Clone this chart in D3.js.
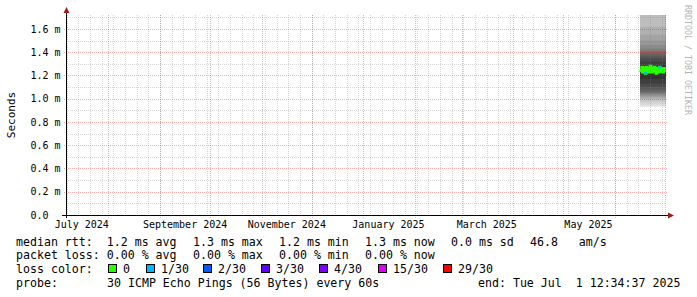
<!DOCTYPE html>
<html>
<head>
<meta charset="utf-8">
<script src="https://cdn.jsdelivr.net/npm/d3@7/dist/d3.min.js"></script>
<style>
  html, body { margin: 0; padding: 0; background: #fff; }
  svg { display: block; font-family: "DejaVu Sans Mono", monospace; }
</style>
</head>
<body>
<svg id="chart" width="697" height="297"></svg>
<script>
// --- data -----------------------------------------------------------------
// graph window: last 360 days up to the "end" stamp
const graphEnd = new Date(Date.UTC(2025, 6, 1, 12, 34, 37));
const graphStart = new Date(graphEnd.getTime() - 360 * 864e5);
const dataStart = new Date(Date.UTC(2025, 5, 16, 0, 0, 0)); // first 12h row with data

const yMaxMs = 1.72;
const yTickValues = [0, 0.2, 0.4, 0.6, 0.8, 1.0, 1.2, 1.4, 1.6];
const yMinorValues = [0.1, 0.3, 0.5, 0.7, 0.9, 1.1, 1.3, 1.5, 1.7];

// median rtt per 12h row (ms)
const medianRtt = [1.25, 1.24, 1.27, 1.23, 1.26, 1.25, 1.22, 1.27, 1.24, 1.26, 1.23, 1.25,
                   1.28, 1.24, 1.23, 1.26, 1.25, 1.27, 1.24, 1.22, 1.26, 1.25, 1.23, 1.27,
                   1.24, 1.26, 1.25, 1.23, 1.26, 1.24, 1.25, 1.26];
// lost pings (of 30) per row
const lossCount = [0, 0, 0, 0, 0, 0, 1, 0, 0, 0, 0, 0, 0, 0, 0, 0,
                   0, 0, 0, 0, 0, 0, 0, 1, 0, 0, 0, 0, 0, 0, 0, 0];
// sorted ping ranks: cp1..cp15 (low side) and cp30..cp16 (high side), ms
const pingLow  = [0.93, 0.95, 0.97, 0.99, 1.00, 1.01, 1.02, 1.03, 1.04, 1.05, 1.06, 1.08, 1.10, 1.13, 1.17];
const pingHigh = [2.80, 2.30, 1.90, 1.72, 1.62, 1.55, 1.50, 1.46, 1.43, 1.41, 1.39, 1.37, 1.35, 1.32, 1.29];

const lossLabels = ['0', '1/30', '2/30', '3/30', '4/30', '15/30', '29/30'];
const lossLevels = [0, 1, 2, 3, 4, 15, 29];
const lossColors = ['#26ff00', '#00b8ff', '#0059ff', '#5e00ff', '#7e00ff', '#dd00ff', '#ff0000'];

const rttStats  = ['median rtt:  1.2 ms avg', '1.3 ms max', '1.2 ms min', '1.3 ms now', '0.0 ms sd', '46.8   am/s'];
const lossStats = ['packet loss: 0.00 % avg', '0.00 % max', '0.00 % min', '0.00 % now'];
const probeText = '30 ICMP Echo Pings (56 Bytes) every 60s';
const endText = 'end: Tue Jul  1 12:34:37 2025';

// --- layout ---------------------------------------------------------------
const X0 = 66, X1 = 666, YTOP = 15, YBOT = 215;
const svg = d3.select('#chart');

const x = d3.scaleUtc().domain([graphStart, graphEnd]).range([X0, X1]);
const y = d3.scaleLinear().domain([0, yMaxMs]).range([YBOT, YTOP]);

svg.append('defs').append('clipPath').attr('id', 'plot')
  .append('rect').attr('x', X0).attr('y', YTOP).attr('width', X1 - X0).attr('height', YBOT - YTOP);

// rows: time of each 12h step
const rows = medianRtt.map((v, i) => ({
  t: d3.utcHour.offset(dataStart, i * 12),
  median: v,
  loss: lossCount[i],
}));
// trailing point so the last step reaches the graph end
const rowsExt = rows.concat([{ ...rows[rows.length - 1], t: graphEnd }]);

const plot = svg.append('g').attr('clip-path', 'url(#plot)');

// smoke: band i spans cp(i) .. cp(31-i), darker towards the middle
const half = pingLow.length;
pingLow.forEach((lo, i) => {
  const g = Math.floor(190 / half * (half - (i + 1))) + 50;
  const area = d3.area()
    .curve(d3.curveStepAfter)
    .x(d => x(d.t))
    .y0(() => y(lo))
    .y1(() => y(pingHigh[i]));
  plot.append('path')
    .attr('d', area(rowsExt))
    .attr('fill', d3.rgb(g, g, g));
});

// median line, coloured by loss
const medLine = d3.line().curve(d3.curveStepAfter).x(d => x(d.t)).y(d => y(d.median));
plot.append('path')
  .attr('d', medLine(rowsExt))
  .attr('fill', 'none')
  .attr('stroke', lossColors[0])
  .attr('stroke-width', 3);
rows.forEach((r, i) => {
  if (!r.loss) return;
  const k = lossLevels.findIndex((l, j) => r.loss >= l && (j === lossLevels.length - 1 || r.loss < lossLevels[j + 1]));
  plot.append('path')
    .attr('d', d3.line().x(d => x(d.t)).y(d => y(d.median))([r, { ...r, t: rowsExt[i + 1].t }]))
    .attr('fill', 'none')
    .attr('stroke', lossColors[k])
    .attr('stroke-linecap', 'square')
    .attr('stroke-width', 2);
});

// --- grid (drawn over the graph, like rrdtool) -----------------------------
const minorCol = 'rgba(128,128,128,0.32)';
const majorCol = 'rgba(255,0,0,0.32)';
const grid = svg.append('g').attr('stroke-dasharray', '1,1').attr('shape-rendering', 'crispEdges');

const weeks = d3.utcSunday.range(graphStart, graphEnd);
const months = d3.utcMonth.range(graphStart, graphEnd);
grid.selectAll('line.wk').data(weeks).join('line')
  .attr('x1', d => Math.round(x(d)) + 0.5).attr('x2', d => Math.round(x(d)) + 0.5)
  .attr('y1', YTOP).attr('y2', YBOT)
  .attr('stroke', minorCol);
grid.selectAll('line.hmin').data(yMinorValues).join('line')
  .attr('x1', X0).attr('x2', X1)
  .attr('y1', d => Math.round(y(d)) + 0.5).attr('y2', d => Math.round(y(d)) + 0.5)
  .attr('stroke', minorCol);
grid.selectAll('line.mo').data(months).join('line')
  .attr('x1', d => Math.round(x(d)) + 0.5).attr('x2', d => Math.round(x(d)) + 0.5)
  .attr('y1', YTOP).attr('y2', YBOT + 3)
  .attr('stroke', majorCol);
grid.selectAll('line.hmaj').data(yTickValues.slice(1)).join('line')
  .attr('x1', X0 - 2).attr('x2', X1 + 2)
  .attr('y1', d => Math.round(y(d)) + 0.5).attr('y2', d => Math.round(y(d)) + 0.5)
  .attr('stroke', majorCol);

// --- axes -----------------------------------------------------------------
const axes = svg.append('g').attr('shape-rendering', 'crispEdges');
axes.append('line').attr('x1', X0 - 4).attr('x2', X1 + 3).attr('y1', YBOT + 0.5).attr('y2', YBOT + 0.5)
  .attr('stroke', '#000');
axes.append('line').attr('x1', X0 + 0.5).attr('x2', X0 + 0.5).attr('y1', YBOT + 3).attr('y2', YTOP - 4)
  .attr('stroke', '#000');
const arrowCol = '#a11b1b';
svg.append('path').attr('d', `M${X0 - 2.5},${YTOP - 2} L${X0 + 3.5},${YTOP - 2} L${X0 + 0.5},${YTOP - 8} Z`)
  .attr('fill', arrowCol);
svg.append('path').attr('d', `M${X1 + 2},${YBOT - 2.5} L${X1 + 2},${YBOT + 3.5} L${X1 + 8},${YBOT + 0.5} Z`)
  .attr('fill', arrowCol);

// y tick labels
svg.append('g').selectAll('text').data(yTickValues).join('text')
  .attr('x', 30.5)
  .attr('y', d => y(d) + 3.6)
  .attr('font-size', 10)
  .attr('fill', '#000')
  .text(d => d === 0 ? '0.0' : d3.format('.1f')(d) + ' m');

// x month labels, every second month, centred half a month in
const labelMonths = d3.utcMonth.every(2).range(d3.utcMonth.floor(graphStart), graphEnd)
  .filter(d => x(d3.utcDay.offset(d, 15)) < X1);
svg.append('g').selectAll('text').data(labelMonths).join('text')
  .attr('x', d => x(d3.utcDay.offset(d, 15)))
  .attr('y', 228)
  .attr('text-anchor', 'middle')
  .attr('font-size', 10)
  .attr('fill', '#000')
  .text(d3.utcFormat('%B %Y'));

// axis title
svg.append('text')
  .attr('transform', `translate(14.5,${(YTOP + YBOT) / 2}) rotate(-90)`)
  .attr('text-anchor', 'middle')
  .attr('font-size', 11)
  .attr('fill', '#000')
  .text('Seconds');

// watermark
svg.append('text')
  .attr('transform', 'translate(684.5,5) rotate(90)')
  .attr('font-size', 8.3)
  .attr('fill', '#b4b4b4')
  .text('RRDTOOL / TOBI OETIKER');

// --- legend ---------------------------------------------------------------
const legend = svg.append('g').attr('font-size', 11.6).attr('fill', '#000');
const rowY = [245.5, 259, 273, 286.5];
const keepSpaces = s => s.replace(/ /g, '\u00a0');
const put = (tx, ty, s) => legend.append('text').attr('x', tx).attr('y', ty).text(keepSpaces(s));

[16, 193, 279, 365, 451, 530].forEach((px, i) => put(px, rowY[0], rttStats[i]));
[16, 193, 279, 365].forEach((px, i) => put(px, rowY[1], lossStats[i]));

put(16, rowY[2], 'loss color:');
const boxX = [108, 146, 203, 261, 319, 378, 443];
boxX.forEach((bx, i) => {
  legend.append('rect')
    .attr('x', bx + 0.5).attr('y', 264.5).attr('width', 8).attr('height', 8)
    .attr('fill', lossColors[i]).attr('stroke', '#000').attr('shape-rendering', 'crispEdges');
  put(bx + 15, rowY[2], lossLabels[i]);
});

put(16, rowY[3], 'probe:');
put(107, rowY[3], probeText);
put(478, rowY[3], endText);
</script>
</body>
</html>
